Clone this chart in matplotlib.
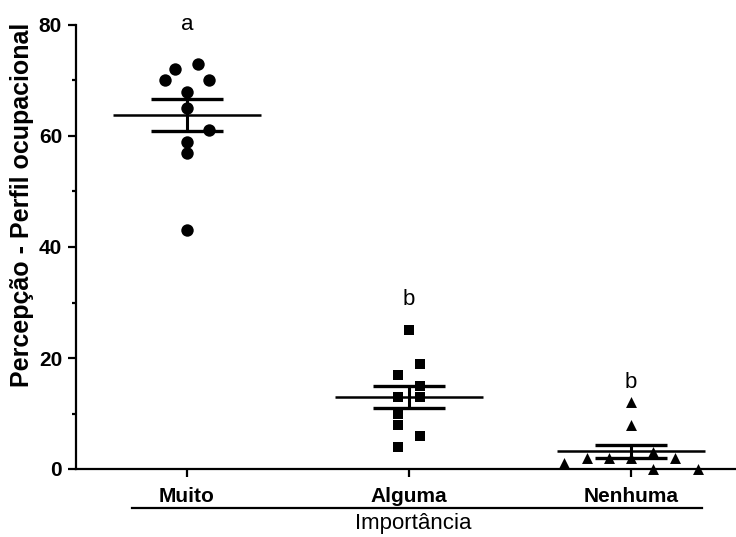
import numpy as np
import matplotlib
matplotlib.use("Agg")
import matplotlib.pyplot as plt
import matplotlib.transforms as mtransforms

plt.rcParams['font.family'] = ['Liberation Sans', 'DejaVu Sans']

# dados
grupos = ['Muito', 'Alguma', 'Nenhuma']
muito = [73, 72, 70, 70, 68, 65, 61, 59, 57, 43]
alguma = [25, 19, 17, 15, 13, 13, 10, 8, 6, 4]
nenhuma = [12, 8, 3, 2, 2, 2, 2, 1, 0, 0]
letras = ['a', 'b', 'b']
letras_y = [80, 30.5, 15.5]

# deslocamento horizontal dos pontos (espalhamento tipo Prism)
muito_dx = [0.05, -0.055, -0.1, 0.1, 0, 0, 0.1, 0, 0, 0]
alguma_dx = [0, 0.05, -0.05, 0.05, -0.05, 0.05, -0.05, -0.05, 0.05, -0.05]
nenhuma_dx = [0, 0, 0.1, -0.2, -0.1, 0, 0.2, -0.3, 0.1, 0.3]

series = [muito, alguma, nenhuma]
desloc = [muito_dx, alguma_dx, nenhuma_dx]
marcadores = ['o', 's', '^']
tamanhos = [80, 55, 62]

fig = plt.figure(figsize=(7.36, 5.37), dpi=100)
ax = fig.add_axes([76/736, 68/537, 660/736, 444/537])

for i, (vals, dx) in enumerate(zip(series, desloc)):
    vals = np.array(vals, dtype=float)
    ax.scatter(i + np.array(dx), vals, marker=marcadores[i], s=tamanhos[i],
               color='black', linewidths=0, clip_on=False, zorder=3)
    media = vals.mean()
    sem = vals.std(ddof=1) / np.sqrt(len(vals))
    ax.hlines(media, i - 0.333, i + 0.333, color='black', lw=1.8, zorder=4)
    ax.errorbar(i, media, yerr=sem, fmt='none', ecolor='black', elinewidth=2.2,
                capsize=26, capthick=2.4, zorder=4)
    ax.text(i, letras_y[i], letras[i], ha='center', va='center', fontsize=16)

ax.set_xlim(-0.5, 2.473)
ax.set_ylim(0, 80)
ax.spines['top'].set_visible(False)
ax.spines['right'].set_visible(False)
ax.spines['left'].set_linewidth(1.6)
ax.spines['bottom'].set_linewidth(1.6)

ax.set_xticks(range(len(grupos)))
ax.set_xticklabels(grupos, fontsize=15, fontweight='bold')
ax.set_yticks(np.arange(0, 81, 20))
ax.set_yticks(np.arange(10, 80, 20), minor=True)
ax.tick_params(axis='y', labelsize=15, width=1.6, length=6, pad=4)
ax.tick_params(axis='y', which='minor', width=1.6, length=3)
ax.tick_params(axis='x', width=1.6, length=6, pad=7)
for t in ax.get_yticklabels():
    t.set_fontweight('bold')

# linha do grupo + titulo do eixo x
trans = mtransforms.blended_transform_factory(ax.transData, ax.transAxes)
ax.plot([-0.248, 2.32], [-0.088, -0.088], color='black', lw=1.6,
        transform=trans, clip_on=False)
fig.text(413/736, 0.014, 'Importância', ha='center', va='baseline', fontsize=16)
fig.text(22/736, (537 - 205)/537, 'Percepção - Perfil ocupacional', rotation=90,
         ha='center', va='center', fontsize=18, fontweight='bold')

fig.savefig('out.png', dpi=100)
